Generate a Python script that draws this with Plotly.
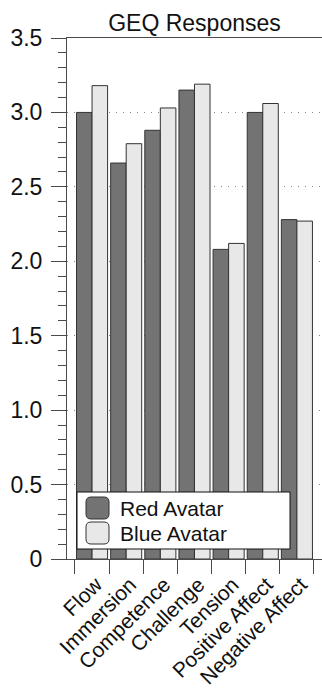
import plotly.graph_objects as go

categories = ["Flow", "Immersion", "Competence", "Challenge", "Tension",
              "Positive Affect", "Negative Affect"]
series_names = ["Red Avatar", "Blue Avatar"]
red_values = [3.00, 2.66, 2.88, 3.15, 2.08, 3.00, 2.28]
blue_values = [3.18, 2.79, 3.03, 3.19, 2.12, 3.06, 2.27]
ytick_vals = [0, 0.5, 1.0, 1.5, 2.0, 2.5, 3.0, 3.5]
ytick_text = ["0", "0.5", "1.0", "1.5", "2.0", "2.5", "3.0", "3.5"]
title_text = "GEQ Responses"

W, H = 322, 699
ML, MR, MT, MB = 67, 0, 38, 140
PW, PH = W - ML - MR, H - MT - MB

FONT = "Liberation Sans, Arial, Helvetica, sans-serif"
RED = "#737373"
BLUE = "#e8e8e8"
EDGE = "#333333"
AXC = "#4a4a4a"


def px_x(x):
    return (x - ML) / PW


def px_y(y):
    return (H - MB - y) / PH


fig = go.Figure()
fig.add_trace(go.Bar(x=categories, y=red_values, name=series_names[0],
                     marker=dict(color=RED, line=dict(color=EDGE, width=1)),
                     showlegend=False))
fig.add_trace(go.Bar(x=categories, y=blue_values, name=series_names[1],
                     marker=dict(color=BLUE, line=dict(color=EDGE, width=1)),
                     showlegend=False))


def rrect(x0, y0, x1, y1, r):
    X = px_x
    Y = px_y
    return (f"M {X(x0 + r)},{Y(y0)} L {X(x1 - r)},{Y(y0)} Q {X(x1)},{Y(y0)} {X(x1)},{Y(y0 + r)} "
            f"L {X(x1)},{Y(y1 - r)} Q {X(x1)},{Y(y1)} {X(x1 - r)},{Y(y1)} "
            f"L {X(x0 + r)},{Y(y1)} Q {X(x0)},{Y(y1)} {X(x0)},{Y(y1 - r)} "
            f"L {X(x0)},{Y(y0 + r)} Q {X(x0)},{Y(y0)} {X(x0 + r)},{Y(y0)} Z")


shapes = [
    dict(type="rect", xref="paper", yref="paper",
         x0=px_x(77), x1=px_x(290), y0=px_y(549), y1=px_y(492),
         fillcolor="white", line=dict(color="#111111", width=1), layer="above"),
    dict(type="path", xref="paper", yref="paper", path=rrect(86, 497, 109, 519, 5),
         fillcolor=RED, line=dict(color=EDGE, width=1), layer="above"),
    dict(type="path", xref="paper", yref="paper", path=rrect(86, 522, 109, 544, 5),
         fillcolor=BLUE, line=dict(color=EDGE, width=1), layer="above"),
]

annotations = [
    dict(xref="paper", yref="paper", x=px_x(118), y=px_y(508), text=series_names[0],
         showarrow=False, xanchor="left", yanchor="middle",
         font=dict(family=FONT, size=21, color="#111111")),
    dict(xref="paper", yref="paper", x=px_x(118), y=px_y(533), text=series_names[1],
         showarrow=False, xanchor="left", yanchor="middle",
         font=dict(family=FONT, size=21, color="#111111")),
]

fig.update_layout(
    width=W, height=H,
    margin=dict(l=ML, r=MR, t=MT, b=MB, pad=0, autoexpand=False),
    paper_bgcolor="white", plot_bgcolor="white",
    barmode="group", bargap=0.09, bargroupgap=0,
    font=dict(family=FONT, size=20, color="#111111"),
    title=dict(text=title_text, x=0.5, xref="paper", xanchor="center",
               y=1 - 23 / H, yref="container", yanchor="middle",
               font=dict(family=FONT, size=23, color="#111111")),
    shapes=shapes, annotations=annotations,
    showlegend=False,
)

fig.update_xaxes(
    type="category", range=[-0.734, 6.735], automargin=False,
    showline=True, linecolor=AXC, linewidth=1, mirror=True,
    ticks="outside", tickson="boundaries", ticklen=14, tickcolor=AXC, tickwidth=1,
    tickangle=-45, tickfont=dict(family=FONT, size=21, color="#111111"),
    ticklabelstandoff=4, ticklabelshift=4,
    showgrid=False, zeroline=False,
)
fig.update_yaxes(
    range=[0, 3.5], tickvals=ytick_vals, ticktext=ytick_text, automargin=False,
    showline=True, linecolor=AXC, linewidth=1,
    ticks="outside", ticklen=15, tickcolor=AXC, tickwidth=1,
    tickfont=dict(family=FONT, size=23, color="#111111"),
    ticklabelstandoff=4,
    minor=dict(dtick=0.1, ticks="outside", ticklen=8, tickcolor=AXC, tickwidth=1,
               showgrid=False),
    showgrid=True, gridcolor="#888888", gridwidth=1, griddash="1px,6px",
    zeroline=False,
)

fig.write_html("out.html", config={"displayModeBar": False},
               post_script="document.body.style.margin='0';document.body.style.overflow='hidden';")
